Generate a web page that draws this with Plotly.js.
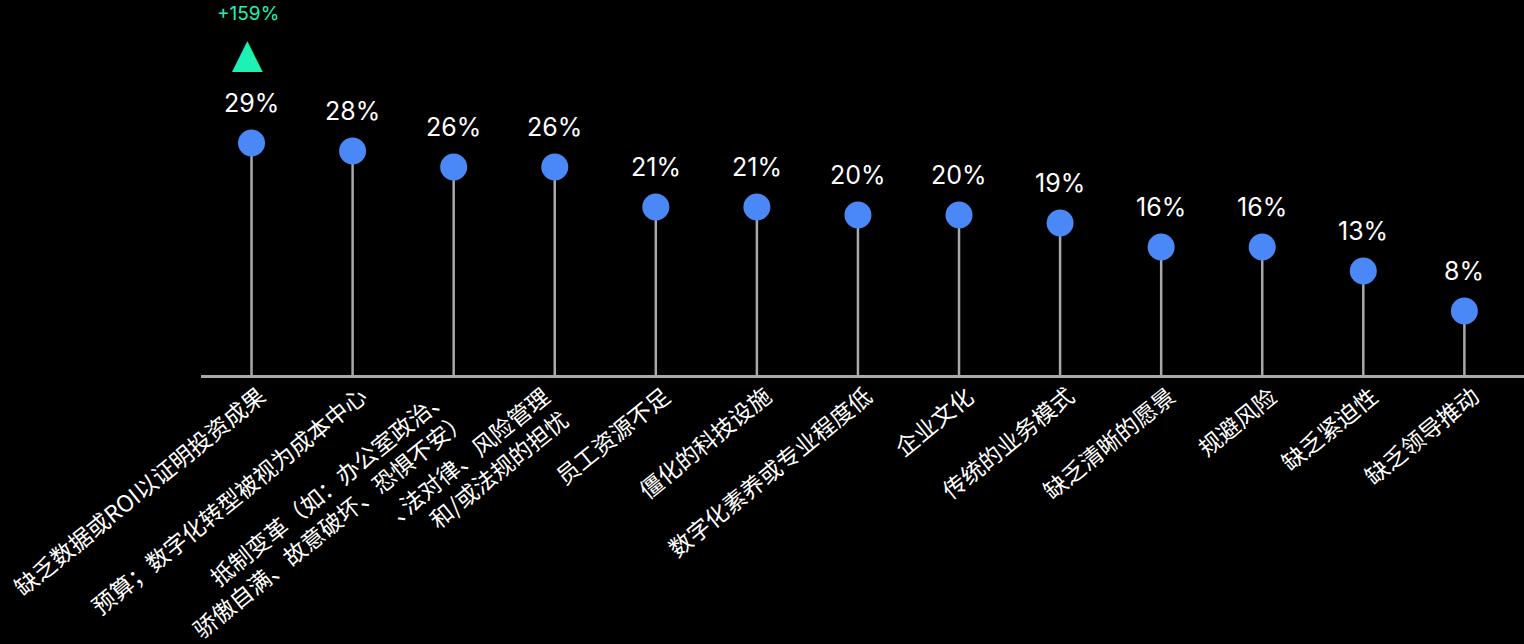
<!DOCTYPE html>
<html>
<head>
<meta charset="utf-8">
<script src="https://cdn.plot.ly/plotly-3.0.1.min.js"></script>
<style>html,body{margin:0;padding:0;background:#000;}#chart{width:1524px;height:644px;}</style>
</head>
<body>
<div id="chart"></div>
<script>
const categories = [
  "缺乏数据或ROI以证明投资成果",
  "预算；数字化转型被视为成本中心",
  "抵制变革（如：办公室政治、<br>骄傲自满、故意破坏、恐惧不安）",
  "､法对律、风险管理<br>和/或法规的担忧",
  "员工资源不足",
  "僵化的科技设施",
  "数字化素养或专业程度低",
  "企业文化",
  "传统的业务模式",
  "缺乏清晰的愿景",
  "规避风险",
  "缺乏紧迫性",
  "缺乏领导推动"
];
const values = [29, 28, 26, 26, 21, 21, 20, 20, 19, 16, 16, 13, 8];
const changeLabel = "+159%";

const zeros = values.map(() => 0);

const trace = {
  type: 'scatter',
  mode: 'markers',
  x: categories,
  y: values,
  marker: {size: 27, color: '#4A88F8'},
  error_y: {
    type: 'data', symmetric: false, array: zeros, arrayminus: values,
    width: 0, thickness: 2.5, color: '#A9A9A9'
  },
  hoverinfo: 'skip',
  cliponaxis: false
};

// value labels
const annotations = values.map((v, i) => ({
  x: categories[i], y: v, xref: 'x', yref: 'y',
  text: v + '%', showarrow: false, yshift: 40,
  font: {family: 'Inter, Roboto, sans-serif', size: 25, color: '#FFFFFF'}
}));
// category labels (rotated, anchored by their box like the reference)
categories.forEach((c) => {
  annotations.push({
    x: c, y: 0, xref: 'x', yref: 'y',
    text: c, showarrow: false, textangle: -39,
    xanchor: 'right', yanchor: 'top', align: 'right',
    xshift: 22, yshift: -2, borderpad: 0,
    font: {family: '"Noto Sans CJK SC", sans-serif', size: 23, color: '#FFFFFF'}
  });
});
annotations.push({
  x: categories[0], y: values[0], xref: 'x', yref: 'y',
  text: '▲', showarrow: false, yshift: 90, xshift: -4,
  font: {family: 'DejaVu Sans', size: 40, color: '#1DF2B4'}
});
annotations.push({
  x: categories[0], y: values[0], xref: 'x', yref: 'y',
  text: changeLabel, showarrow: false, yshift: 130, xshift: -4,
  font: {family: 'Inter, Roboto, sans-serif', size: 19, color: '#1DF2B4'}
});

const layout = {
  width: 1524, height: 644,
  paper_bgcolor: '#000000', plot_bgcolor: '#000000',
  margin: {l: 201, r: 0, t: 0, b: 269},
  showlegend: false,
  xaxis: {
    type: 'category', range: [-0.5, 12.59],
    showline: true, linecolor: '#A9A9A9', linewidth: 2.5,
    showgrid: false, zeroline: false, ticks: '', showticklabels: false
  },
  yaxis: {visible: false, range: [0, 46.875], showgrid: false, zeroline: false},
  annotations: annotations
};

Plotly.newPlot('chart', [trace], layout, {displayModeBar: false, staticPlot: true});
</script>
</body>
</html>
